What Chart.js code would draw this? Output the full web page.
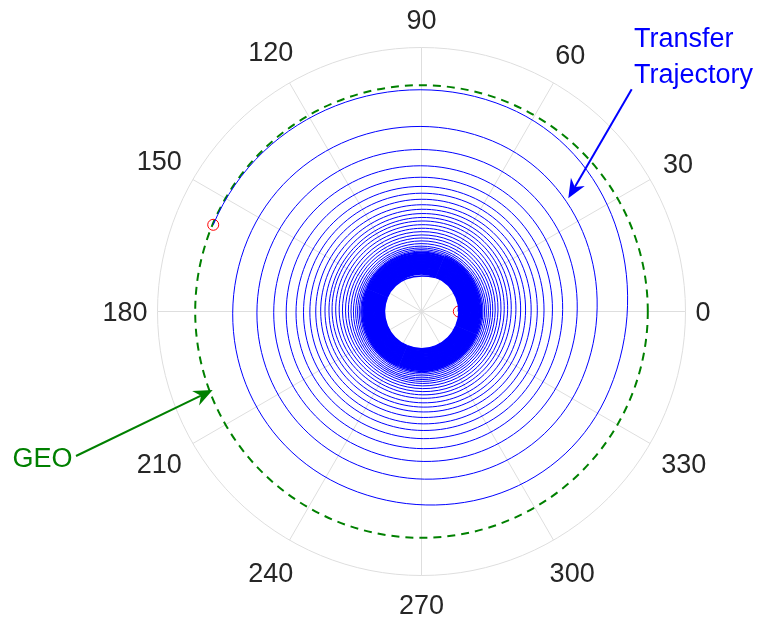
<!DOCTYPE html>
<html>
<head>
<meta charset="utf-8">
<script src="https://cdn.jsdelivr.net/npm/chart.js@4.4.1/dist/chart.umd.min.js"></script>
<style>
  html, body { margin: 0; padding: 0; background: #fff; }
  #wrap { width: 762px; height: 622px; }
</style>
</head>
<body>
<div id="wrap"><canvas id="orbitChart" width="762" height="622"></canvas></div>
<script>
// polar axes: radial limit and theta ticks (degrees)
var rMax = 264;
var thetaTicks = [0, 30, 60, 90, 120, 150, 180, 210, 240, 270, 300, 330];

// transfer spiral, one entry per revolution, radius read at these angles
var revAngles = [67.4, 157.4, 247.4, 337.4];
var rAt67 = [36.81, 37.41, 38.01, 38.61, 39.21, 39.81, 40.41, 41.01, 41.61, 42.21,
  42.81, 43.41, 44.01, 44.61, 45.21, 45.81, 46.41, 47.01, 47.61, 48.21,
  48.81, 49.41, 50.01, 50.61, 51.21, 51.81, 52.41, 53.01, 53.61, 54.21,
  54.81, 55.41, 56.01, 56.63, 57.35, 58.17, 59.12, 60.36, 61.80, 63.44,
  65.27, 67.86, 70.66, 73.65, 76.76, 80.07, 83.49, 87.10, 90.82, 94.42,
  98.30, 102.55, 107.02, 112.40, 118.40, 125.10, 134.15, 145.49, 161.69, 184.69];
var rAt157 = [36.96, 37.56, 38.16, 38.76, 39.36, 39.96, 40.56, 41.16, 41.76, 42.36,
  42.96, 43.56, 44.16, 44.76, 45.36, 45.96, 46.56, 47.16, 47.76, 48.36,
  48.96, 49.56, 50.16, 50.76, 51.36, 51.96, 52.56, 53.16, 53.76, 54.36,
  54.96, 55.56, 56.16, 56.81, 57.55, 58.39, 59.42, 60.71, 62.20, 63.89,
  65.77, 68.09, 70.61, 73.33, 76.25, 79.39, 82.69, 86.20, 89.86, 92.70,
  96.63, 100.85, 105.68, 111.50, 117.80, 125.18, 135.0, 147.47, 164.15, 188.15];
var rAt247 = [37.11, 37.71, 38.31, 38.91, 39.51, 40.11, 40.71, 41.31, 41.91, 42.51,
  43.11, 43.71, 44.31, 44.91, 45.51, 46.11, 46.71, 47.31, 47.91, 48.51,
  49.11, 49.71, 50.31, 50.91, 51.51, 52.11, 52.71, 53.31, 53.91, 54.51,
  55.11, 55.71, 56.31, 56.98, 57.75, 58.62, 59.72, 61.06, 62.60, 64.34,
  66.27, 67.86, 69.64, 71.63, 73.97, 76.64, 79.60, 82.75, 86.21, 90.73,
  94.95, 99.78, 105.30, 111.75, 118.37, 126.50, 136.50, 148.97, 166.35, 191.40];
var rAt337 = [37.26, 37.86, 38.46, 39.06, 39.66, 40.26, 40.86, 41.46, 42.06, 42.66,
  43.26, 43.86, 44.46, 45.06, 45.66, 46.26, 46.86, 47.46, 48.06, 48.66,
  49.26, 49.86, 50.46, 51.06, 51.66, 52.26, 52.86, 53.46, 54.06, 54.66,
  55.26, 55.86, 56.46, 57.16, 57.95, 58.84, 60.02, 61.41, 63.00, 64.79,
  66.77, 68.73, 70.89, 73.25, 75.94, 78.86, 82.04, 85.41, 89.03, 93.85,
  98.67, 103.67, 109.29, 115.45, 122.15, 130.45, 140.45, 154.79, 174.19, 203.56];

// parking orbit before departure (not drawn), departure,
// last partial revolution, arrival, then coasting on GEO (not drawn)
var parkAngle = -90, parkR = 36.7;
var startAngle = 0, startR = 36.7;
var tailAngle = [67.4, 157.4];
var tailR = [221.5, 225.6];
var coastAngle = 247.4, coastR = 226.3;

// GEO circle (one step past each end so the closing seam stays smooth)
var geoR = 226.3;
var geoAngle = [-30, 0, 30, 60, 90, 120, 150, 180, 210, 240, 270, 300, 330, 360, 390];

// start / arrival markers
var markerAngle = [0, 157.4];
var markerR = [37.3, 225.6];

function polar(r, deg) {
  var a = deg * Math.PI / 180;
  return { x: r * Math.cos(a), y: r * Math.sin(a) };
}

var spiral = [polar(parkR, parkAngle), polar(startR, startAngle)];
for (var i = 0; i < rAt67.length; i++) {
  spiral.push(polar(rAt67[i], revAngles[0]));
  spiral.push(polar(rAt157[i], revAngles[1]));
  spiral.push(polar(rAt247[i], revAngles[2]));
  spiral.push(polar(rAt337[i], revAngles[3]));
}
for (var j = 0; j < tailAngle.length; j++) {
  spiral.push(polar(tailR[j], tailAngle[j]));
}
var arrivalIndex = spiral.length - 1;
spiral.push(polar(coastR, coastAngle));
// the dense inner revolutions (below ~60) are stroked a bit heavier, as in the original
var denseEnd = 2 + 37 * 4;

var geoPts = geoAngle.map(function (a) { return polar(geoR, a); });
var markerPts = markerAngle.map(function (a, k) { return polar(markerR[k], a); });

// annotation placement (axis units, origin at the pole)
var notes = {
  transfer: { lines: ['Transfer', 'Trajectory'], x: 212.5, y: 264.8, gap: 36.6, color: '#0000ff' },
  transferArrow: { from: [210.2, 222.2], to: [146.8, 113.2], color: '#0000ff' },
  geo: { lines: ['GEO'], x: -409, y: -155.2, gap: 0, color: '#008000' },
  geoArrow: { from: [-345.5, -144.5], to: [-208.8, -78.5], color: '#008000' }
};

var polarGrid = {
  id: 'polarGrid',
  beforeDatasetsDraw: function (chart) {
    var ctx = chart.ctx, xs = chart.scales.x, ys = chart.scales.y;
    var cx = xs.getPixelForValue(0), cy = ys.getPixelForValue(0);
    var rp = xs.getPixelForValue(rMax) - cx;
    ctx.save();
    ctx.strokeStyle = '#dedede';
    ctx.lineWidth = 1;
    thetaTicks.forEach(function (t) {
      var a = t * Math.PI / 180;
      ctx.beginPath();
      ctx.moveTo(cx, cy);
      ctx.lineTo(cx + rp * Math.cos(a), cy - rp * Math.sin(a));
      ctx.stroke();
    });
    ctx.beginPath();
    ctx.arc(cx, cy, rp, 0, 2 * Math.PI);
    ctx.stroke();

    ctx.font = '27px "Liberation Sans", Arial, sans-serif';
    ctx.fillStyle = '#262626';
    ctx.textAlign = 'center';
    ctx.textBaseline = 'middle';
    thetaTicks.forEach(function (t) {
      var a = t * Math.PI / 180, c = Math.cos(a), s = Math.sin(a);
      var hw = ctx.measureText(String(t)).width / 2;
      var d = rp + 10 + hw * Math.abs(c) + 18.5 * Math.abs(s);
      ctx.fillText(String(t), cx + d * c, cy - d * s + 2.5);
    });
    ctx.restore();
  }
};

function drawArrow(ctx, x0, y0, x1, y1, color) {
  var dx = x1 - x0, dy = y1 - y0, len = Math.sqrt(dx * dx + dy * dy);
  var ux = dx / len, uy = dy / len, nx = -uy, ny = ux;
  var L = 19, W = 8, notch = 13;
  ctx.save();
  ctx.strokeStyle = color;
  ctx.fillStyle = color;
  ctx.lineWidth = 2;
  ctx.beginPath();
  ctx.moveTo(x0, y0);
  ctx.lineTo(x1 - ux * notch, y1 - uy * notch);
  ctx.stroke();
  ctx.beginPath();
  ctx.moveTo(x1, y1);
  ctx.lineTo(x1 - ux * L + nx * W, y1 - uy * L + ny * W);
  ctx.lineTo(x1 - ux * notch, y1 - uy * notch);
  ctx.lineTo(x1 - ux * L - nx * W, y1 - uy * L - ny * W);
  ctx.closePath();
  ctx.fill();
  ctx.restore();
}

var annotations = {
  id: 'annotations',
  afterDatasetsDraw: function (chart) {
    var ctx = chart.ctx, xs = chart.scales.x, ys = chart.scales.y;
    ctx.save();
    ctx.font = '27px "Liberation Sans", Arial, sans-serif';
    ctx.textAlign = 'left';
    ctx.textBaseline = 'alphabetic';
    [notes.transfer, notes.geo].forEach(function (n) {
      ctx.fillStyle = n.color;
      n.lines.forEach(function (line, k) {
        ctx.fillText(line, xs.getPixelForValue(n.x), ys.getPixelForValue(n.y) + k * n.gap);
      });
    });
    ctx.restore();
    [notes.transferArrow, notes.geoArrow].forEach(function (a) {
      drawArrow(ctx,
        xs.getPixelForValue(a.from[0]), ys.getPixelForValue(a.from[1]),
        xs.getPixelForValue(a.to[0]), ys.getPixelForValue(a.to[1]), a.color);
    });
  }
};

var orbitChart = new Chart(document.getElementById('orbitChart'), {
  type: 'scatter',
  data: {
    datasets: [
      {
        label: 'Transfer Trajectory',
        data: spiral,
        showLine: true,
        borderColor: '#0000ff',
        borderWidth: 1,
        pointRadius: 0,
        tension: 0.5523,
        segment: {
          borderColor: function (c) {
            return (c.p0DataIndex === 0 || c.p0DataIndex >= arrivalIndex) ? 'rgba(0,0,0,0)' : undefined;
          },
          borderWidth: function (c) {
            if (c.p0DataIndex >= denseEnd) return undefined;
            return c.p0DataIndex % 2 ? 1.5 : 1.51;
          }
        },
        order: 1
      },
      {
        label: 'Markers',
        data: markerPts,
        showLine: false,
        pointStyle: 'circle',
        pointRadius: 5.5,
        pointBorderWidth: 1,
        pointBorderColor: '#ff0000',
        pointBackgroundColor: 'rgba(0,0,0,0)',
        order: 2
      },
      {
        label: 'GEO',
        data: geoPts,
        showLine: true,
        borderColor: '#008000',
        borderWidth: 2,
        borderDash: [8, 6],
        pointRadius: 0,
        tension: 0.351,
        segment: {
          borderColor: function (c) {
            return (c.p0DataIndex === 0 || c.p1DataIndex === geoAngle.length - 1) ? 'rgba(0,0,0,0)' : undefined;
          }
        },
        order: 3
      }
    ]
  },
  options: {
    responsive: false,
    animation: false,
    devicePixelRatio: 1,
    events: [],
    layout: { padding: { left: 157.5, right: 76.5, top: 47.5, bottom: 46.5 } },
    scales: {
      x: { type: 'linear', min: -rMax, max: rMax, display: false },
      y: { type: 'linear', min: -rMax, max: rMax, display: false }
    },
    plugins: {
      legend: { display: false },
      tooltip: { enabled: false }
    }
  },
  plugins: [polarGrid, annotations]
});
</script>
</body>
</html>
